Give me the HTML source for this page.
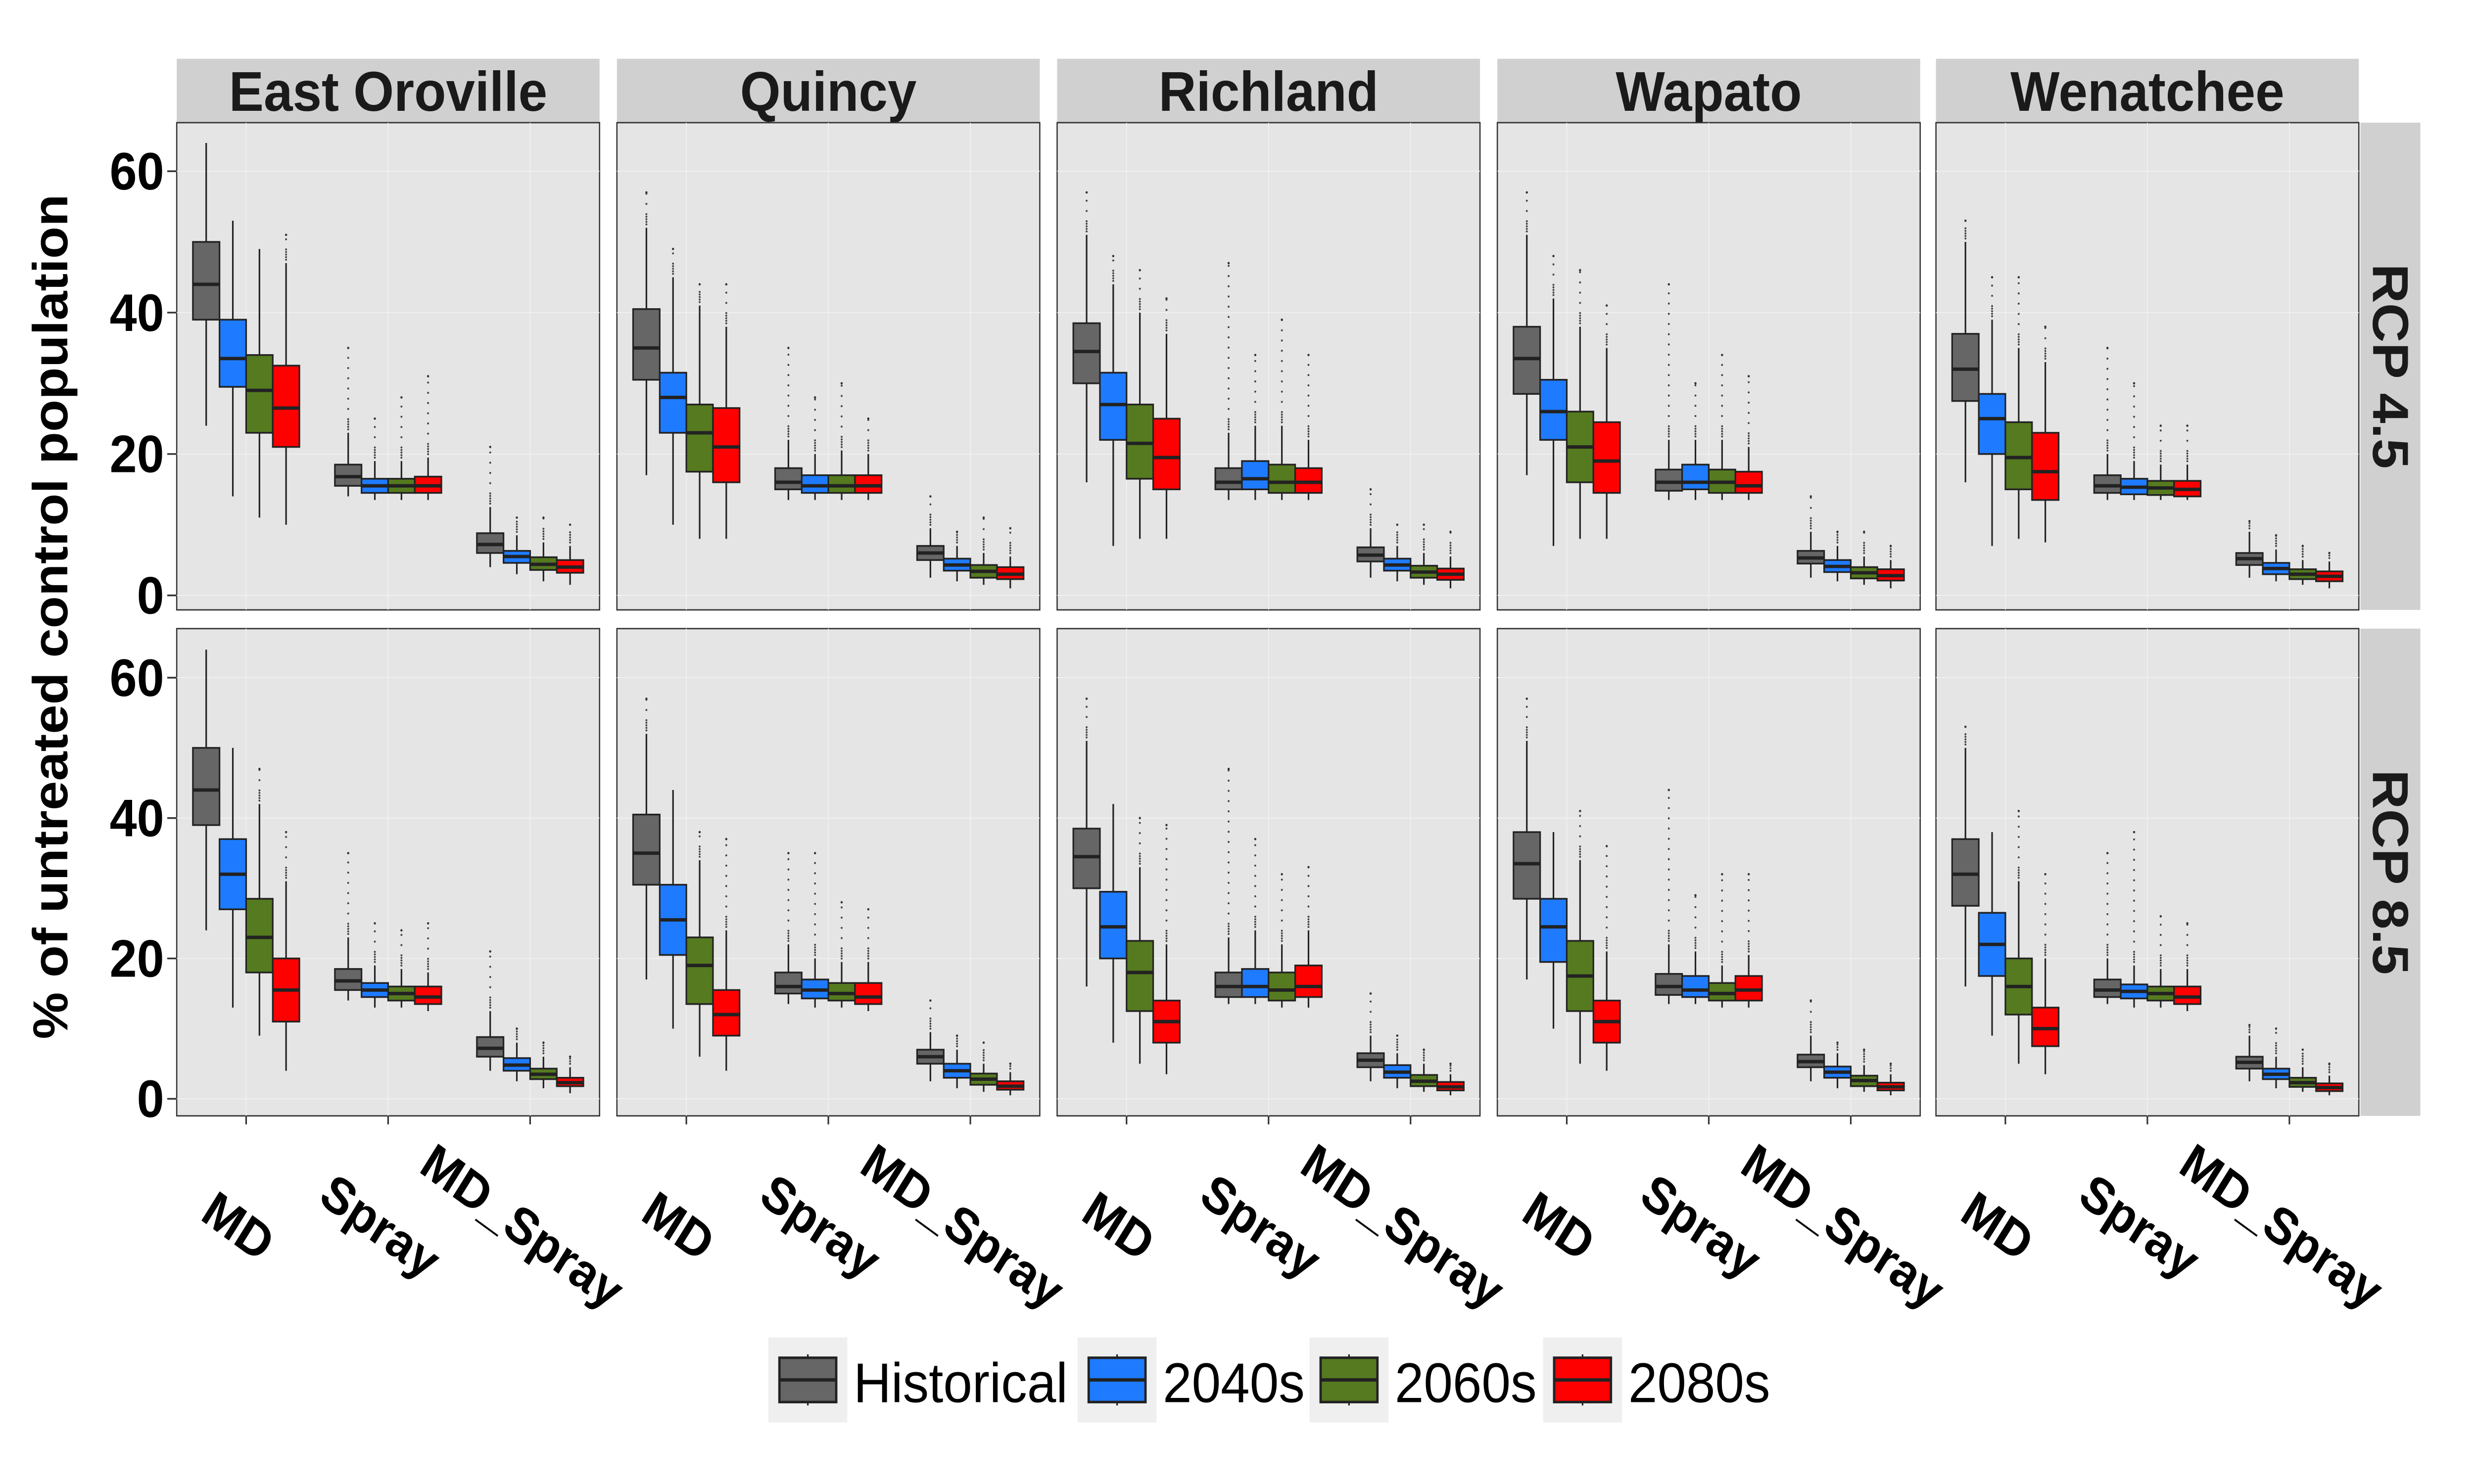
<!DOCTYPE html>
<html><head><meta charset="utf-8"><style>
html,body{margin:0;padding:0;background:#fff;width:100%;height:100%;overflow:hidden}
svg{display:block;width:100vw;height:100vh}
text{font-family:"Liberation Sans",Arial,sans-serif}
</style></head><body>
<svg id="chart" xmlns="http://www.w3.org/2000/svg" viewBox="0 0 1568 871.1" preserveAspectRatio="none">
<rect x="0" y="0" width="1568" height="871.1" fill="#fff"/>
<g id="root"></g>
</svg>
<script>
const sites = ["East Oroville","Quincy","Richland","Wapato","Wenatchee"];
const rcps = ["RCP 4.5","RCP 8.5"];
const treatments = ["MD","Spray","MD_Spray"];
const periods = ["Historical","2040s","2060s","2080s"];
const colors = ["#666666","#1E7BFF","#557A1F","#FF0000"];
const yTicks = [0,20,40,60];
// box stats per [site][treatment][period] = [lowWhisker, q1, median, q3, highWhisker, outlierMax]
const rcp45 = [
 [[[24,39,44,50,64,64],[14,29.5,33.5,39,53,53],[11,23,29,34,49,49],[10,21,26.5,32.5,47,51]],
  [[14,15.5,16.8,18.5,23,35],[13.5,14.5,15.5,16.5,19,25],[13.5,14.5,15.5,16.5,19,28],[13.5,14.5,15.5,16.8,19.5,31]],
  [[4,6,7.2,8.8,12.5,21],[3,4.6,5.5,6.3,8.5,11],[2,3.6,4.4,5.4,7.5,11],[1.5,3.2,4,5,7,10]]],
 [[[17,30.5,35,40.5,52,57],[10,23,28,31.5,45,49],[8,17.5,23,27,41,44],[8,16,21,26.5,38,44]],
  [[13.5,15,16,18,22,35],[13.5,14.5,15.5,17,20,28],[13.5,14.5,15.5,17,20.5,30],[13.5,14.5,15.5,17,20,25]],
  [[2.5,5,6,7,9.5,14],[2,3.5,4.3,5.2,7,9],[1.5,2.5,3.4,4.3,6,11],[1,2.3,3,4,5.5,9.5]]],
 [[[16,30,34.5,38.5,51,57],[7,22,27,31.5,44,48],[8,16.5,21.5,27,40,46],[8,15,19.5,25,37,42]],
  [[13.5,15,16,18,23,47],[13.5,15,16.5,19,24,34],[13.5,14.5,16,18.5,24,39],[13.5,14.5,16,18,22,34]],
  [[2.5,4.8,5.7,6.8,9.5,15],[2,3.5,4.3,5.2,7,10],[1.5,2.5,3.3,4.2,6,10],[1,2.2,3,3.8,5.5,9]]],
 [[[17,28.5,33.5,38,51,57],[7,22,26,30.5,42,48],[8,16,21,26,38,46],[8,14.5,19,24.5,35,41]],
  [[13.5,14.8,16,17.8,22,44],[13.5,15,16,18.5,22,30],[13.5,14.5,16,17.8,22,34],[13.5,14.5,15.5,17.5,21,31]],
  [[2.5,4.5,5.3,6.3,9,14],[2,3.3,4.1,5,7,9],[1.5,2.4,3.2,4,5.5,9],[1,2.1,2.8,3.7,5,7]]],
 [[[16,27.5,32,37,50,53],[7,20,25,28.5,39,45],[8,15,19.5,24.5,35,45],[7.5,13.5,17.5,23,33,38]],
  [[13.5,14.5,15.5,17,20,35],[13.5,14.3,15.3,16.5,19,30],[13.5,14.2,15.2,16.2,18.5,24],[13.5,14,15,16.2,18.5,24]],
  [[2.5,4.3,5.2,6,9,10.5],[2,3,3.8,4.6,6.5,8.5],[1.5,2.3,3,3.7,5,7],[1,2,2.7,3.4,4.8,6]]]
];
const rcp85 = [
 [[[24,39,44,50,64,64],[13,27,32,37,50,50],[9,18,23,28.5,42,47],[4,11,15.5,20,31,38]],
  [[14,15.5,16.8,18.5,23,35],[13,14.5,15.5,16.5,19,25],[13,14,15,16,18.5,24],[12.5,13.5,14.5,16,18,25]],
  [[4,6,7.2,8.8,12.5,21],[2.5,4,4.8,5.8,8,10],[1.5,2.8,3.5,4.3,6,8],[0.8,1.8,2.3,3,4.5,6]]],
 [[[17,30.5,35,40.5,52,57],[10,20.5,25.5,30.5,44,44],[6,13.5,19,23,34,38],[4,9,12,15.5,24,37]],
  [[13.5,15,16,18,22,35],[13,14.3,15.5,17,20,35],[13,14,15,16.5,19.5,28],[12.5,13.5,14.5,16.5,19.5,27]],
  [[2.5,5,6,7,9.5,14],[1.5,3,4,5,7,9],[1,2,2.8,3.6,5,8],[0.5,1.3,1.8,2.5,3.8,5]]],
 [[[16,30,34.5,38.5,51,57],[8,20,24.5,29.5,42,42],[5,12.5,18,22.5,33,40],[3.5,8,11,14,22,39]],
  [[13.5,14.5,16,18,23,47],[13.5,14.5,16,18.5,24,37],[13,14,15.5,18,22,32],[13,14.5,16,19,24,33]],
  [[2.5,4.5,5.5,6.5,9,15],[1.5,3,3.8,4.8,6.5,9],[1,1.8,2.5,3.4,5,7],[0.5,1.2,1.7,2.4,3.5,5]]],
 [[[17,28.5,33.5,38,51,57],[10,19.5,24.5,28.5,38,38],[5,12.5,17.5,22.5,34,41],[4,8,11,14,21,36]],
  [[13.5,14.8,16,17.8,22,44],[13.5,14.5,15.5,17.5,21,29],[13,14,15,16.5,19,32],[13,14,15.5,17.5,20.5,32]],
  [[2.5,4.5,5.3,6.3,9,14],[1.5,3,3.8,4.6,6.5,8],[1,1.8,2.6,3.3,4.8,7],[0.5,1.2,1.7,2.3,3.5,5]]],
 [[[16,27.5,32,37,50,53],[9,17.5,22,26.5,38,38],[5,12,16,20,31,41],[3.5,7.5,10,13,20,32]],
  [[13.5,14.5,15.5,17,20,35],[13,14.3,15.3,16.3,19,38],[13,14,15,16,18.5,26],[12.5,13.5,14.5,16,18.5,25]],
  [[2.5,4.3,5.2,6,9,10.5],[1.5,2.8,3.5,4.3,6,10],[1,1.7,2.3,3,4.5,7],[0.5,1.1,1.6,2.2,3.3,5]]]
];
const allData = [rcp45, rcp85];

const NS = "http://www.w3.org/2000/svg";
const svg = document.getElementById("root");
function mk(tag, attrs, parent){const e=document.createElementNS(NS,tag);for(const k in attrs)e.setAttribute(k,attrs[k]);(parent||svg).appendChild(e);return e;}

const panelLefts = [112,391,670,949,1227];
const panelW = 268;
const rowTops = [72,369];
const panelH = 286;
const zeroY = [349.5,645];
const pxPerUnit = [4.15,4.12];
function yScale(row,v){return zeroY[row]-v*pxPerUnit[row];}
const unitW = 90;
function xScale(panel,t,p){const c=panelLefts[panel]+panelW/2+(t-1)*unitW;return c+(p-1.5)*unitW*0.1875;}
const boxW = unitW*0.1875;

sites.forEach((s,i)=>{
  const g=mk("g",{});
  
  
  mk("rect",{x:panelLefts[i],y:34.5,width:panelW,height:37.5,fill:"#d0d0d0"},g);
  const t=mk("text",{x:panelLefts[i]+panelW/2,y:65,"text-anchor":"middle","font-size":33,"font-weight":"bold",fill:"#1a1a1a"},g);
  t.textContent=s;
});
rcps.forEach((r,j)=>{
  const g=mk("g",{});
  
  
  mk("rect",{x:1496,y:rowTops[j],width:38,height:panelH,fill:"#d0d0d0"},g);
  const cy=rowTops[j]+panelH/2;
  const t=mk("text",{x:1515,y:cy,"text-anchor":"middle","dominant-baseline":"central","font-size":32,"font-weight":"bold",fill:"#1a1a1a",transform:`rotate(90 1515 ${cy})`},g);
  t.textContent=r;
});

for(let r=0;r<2;r++){
  const ya=mk("g",{});
  
  
  yTicks.forEach(v=>{
    const y=yScale(r,v);
    mk("line",{x1:106,x2:112,y1:y,y2:y,stroke:"#333","stroke-width":1},ya);
    const t=mk("text",{x:104,y:y,"text-anchor":"end","dominant-baseline":"central","font-size":31,"font-weight":"bold",fill:"#000"},ya);
    t.textContent=v;
  });
  for(let s=0;s<5;s++){
    const g=mk("g",{});
    
    
    mk("rect",{x:panelLefts[s],y:rowTops[r],width:panelW,height:panelH,fill:"#e5e5e5",stroke:"#333","stroke-width":0.8},g);
    yTicks.forEach(v=>{const y=yScale(r,v);mk("line",{x1:panelLefts[s],x2:panelLefts[s]+panelW,y1:y,y2:y,stroke:"#f2f2f2","stroke-width":0.5},g);});
    for(let t=0;t<3;t++){const x=panelLefts[s]+panelW/2+(t-1)*unitW;mk("line",{x1:x,x2:x,y1:rowTops[r],y2:rowTops[r]+panelH,stroke:"#f2f2f2","stroke-width":0.5},g);}
    for(let t=0;t<3;t++){
      for(let p=0;p<4;p++){
        const d=allData[r][s][t][p];
        const cx=xScale(s,t,p);
        const b=mk("g",{},g);
        
        
        mk("line",{x1:cx,x2:cx,y1:yScale(r,d[0]),y2:yScale(r,d[4]),stroke:"#222","stroke-width":1},b);
        mk("rect",{x:cx-boxW/2,y:yScale(r,d[3]),width:boxW,height:yScale(r,d[1])-yScale(r,d[3]),fill:colors[p],stroke:"#222","stroke-width":1},b);
        mk("line",{x1:cx-boxW/2,x2:cx+boxW/2,y1:yScale(r,d[2]),y2:yScale(r,d[2]),stroke:"#222","stroke-width":2},b);
        if(d[5]>d[4]+0.5){
          const y0=yScale(r,d[4]),y1=yScale(r,d[5]);
          for(let y=y0-2;y>=y1-0.1;y-=(y0-y<8?1.5:6)){mk("circle",{cx:cx,cy:y,r:0.6,fill:"#444"},b);}
          mk("circle",{cx:cx,cy:y1,r:0.7,fill:"#333"},b);
        }
      }
    }
    if(r===1){
      for(let t=0;t<3;t++){
        const x=panelLefts[s]+panelW/2+(t-1)*unitW;
        mk("line",{x1:x,x2:x,y1:655,y2:660,stroke:"#333","stroke-width":1},g);
        const tx=mk("text",{x:x-5,y:720,"text-anchor":"middle","dominant-baseline":"central","font-size":30,"font-weight":"bold",fill:"#000",transform:`rotate(34 ${x-5} 720)`});
        
        
        tx.textContent=treatments[t];
      }
    }
  }
}

const yt=mk("text",{x:32,y:362,"text-anchor":"middle","dominant-baseline":"central","font-size":31,"font-weight":"bold",fill:"#000",transform:"rotate(-90 32 362)"});


yt.textContent="% of untreated control population";

const legX=[487,683,830,978];
const leg=mk("g",{});


periods.forEach((p,i)=>{
  const e=mk("g",{},leg);
  
  
  const x=legX[i];
  mk("rect",{x:x,y:785,width:50,height:50,fill:"#efefef"},e);
  mk("line",{x1:x+25,x2:x+25,y1:795,y2:825,stroke:"#222","stroke-width":1},e);
  mk("rect",{x:x+7,y:797,width:36,height:26,fill:colors[i],stroke:"#222","stroke-width":1.5},e);
  mk("line",{x1:x+7,x2:x+43,y1:810,y2:810,stroke:"#222","stroke-width":2},e);
  const t=mk("text",{x:x+54,y:823,"font-size":33,fill:"#000"},e);
  t.textContent=p;
});
</script>
</body></html>
